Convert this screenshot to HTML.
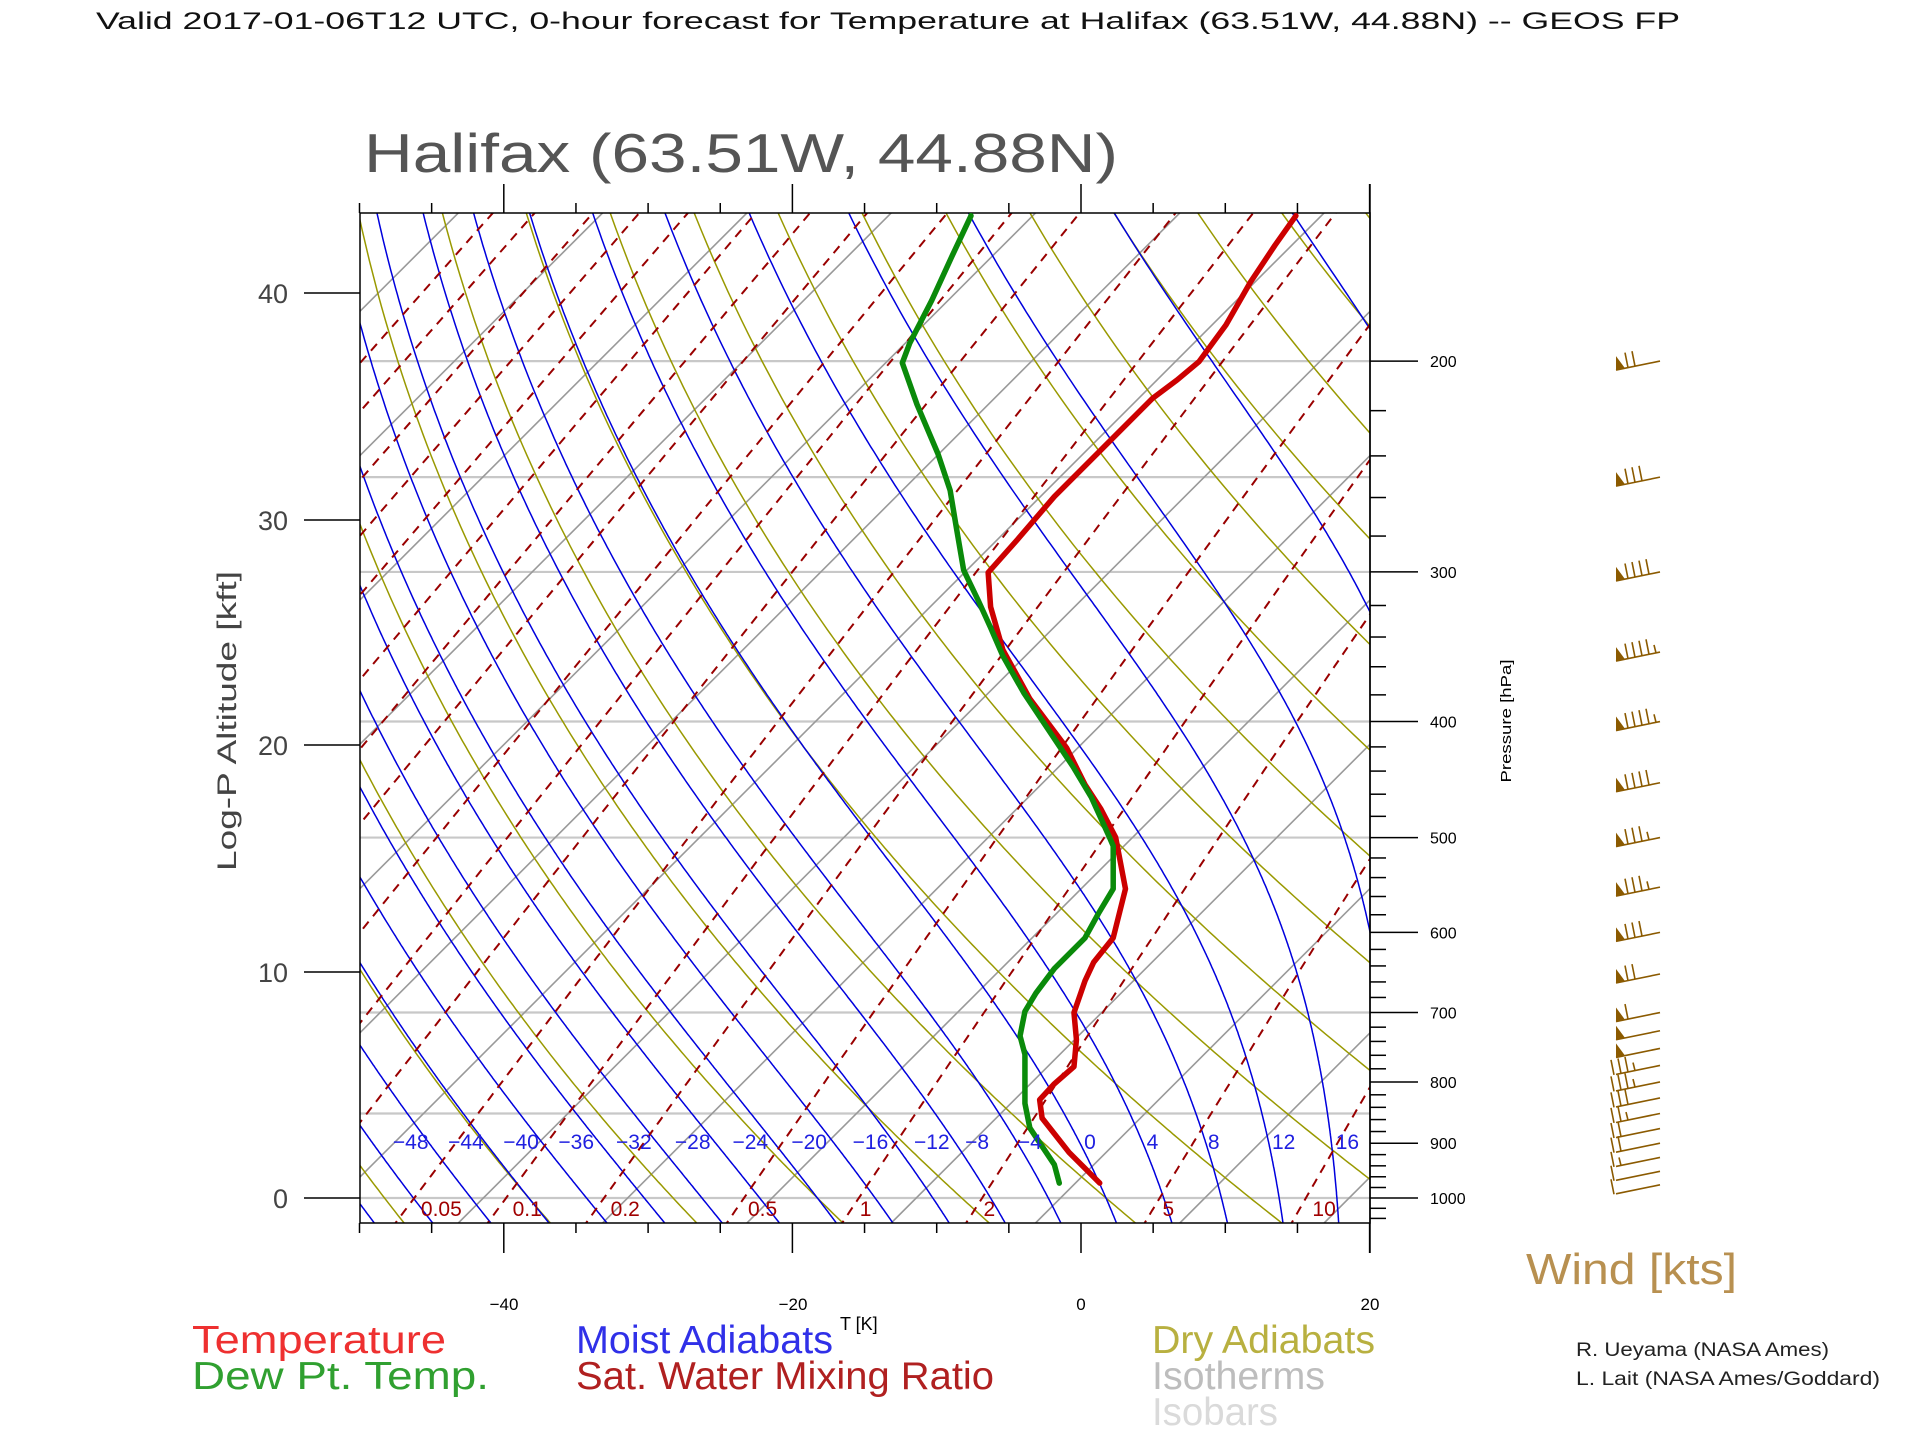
<!DOCTYPE html>
<html><head><meta charset="utf-8"><style>
html,body{margin:0;padding:0;background:#fff;}
svg{display:block;}
text{font-family:"Liberation Sans",sans-serif;}
</style></head><body>
<svg id="s" width="1920" height="1440" viewBox="0 0 1920 1440" xmlns="http://www.w3.org/2000/svg">
<defs><clipPath id="cp"><rect x="360" y="213" width="1010" height="1010"/></clipPath></defs>
<rect width="1920" height="1440" fill="#fff"/>
<g id="bg" clip-path="url(#cp)"></g>
<g id="ax" stroke="#000" stroke-width="1.5" fill="none"></g>
<g transform="scale(1.226)" fill="none" stroke-linejoin="round" stroke-linecap="round">
<polyline stroke="#cc0000" stroke-width="4.5" points="897,965 872,940 850,912 848,897 860,884 876,870 878,848 876,826 885,800 892,785 908,765 918,725 910,683 898,660 885,640 870,610 840,570 818,530 808,495 806,467 830,440 860,405 900,365 940,325 960,310 978,295 1000,265 1020,230 1040,200 1057,176"/>
<polyline stroke="#0a8a0a" stroke-width="4.5" points="864,965 860,950 850,935 840,920 836,900 836,885 836,860 832,845 836,825 845,810 860,790 885,765 896,745 908,725 908,690 905,683 890,650 875,625 855,595 835,565 818,535 808,512 798,490 786,465 780,430 775,400 765,370 748,330 736,296 742,280 760,245 776,210 792,176"/>
</g>
<g id="tx"></g>
<g id="wb" stroke="#8b5a00" stroke-width="1.6" fill="#8b5a00"></g>
<text x="96" y="29" font-size="24" fill="#111" textLength="1584" lengthAdjust="spacingAndGlyphs">Valid 2017-01-06T12 UTC, 0-hour forecast for Temperature at Halifax (63.51W, 44.88N) -- GEOS FP</text>
<text x="364" y="172" font-size="55" fill="#555" textLength="754" lengthAdjust="spacingAndGlyphs">Halifax (63.51W, 44.88N)</text>
<text transform="translate(236,721) rotate(-90)" font-size="27" fill="#444" text-anchor="middle" textLength="300" lengthAdjust="spacingAndGlyphs">Log-P Altitude [kft]</text>
<text transform="translate(1511,721) rotate(-90)" font-size="15" text-anchor="middle" textLength="123" lengthAdjust="spacingAndGlyphs">Pressure [hPa]</text>
<text x="840" y="1330" font-size="18">T [K]</text>
<g font-size="39">
<text x="192" y="1353" fill="#ee3030" textLength="254" lengthAdjust="spacingAndGlyphs">Temperature</text>
<text x="192" y="1389" fill="#30a030" textLength="297" lengthAdjust="spacingAndGlyphs">Dew Pt. Temp.</text>
<text x="576" y="1353" fill="#3030e8" textLength="257" lengthAdjust="spacingAndGlyphs">Moist Adiabats</text>
<text x="576" y="1389" fill="#b02020" textLength="418" lengthAdjust="spacingAndGlyphs">Sat. Water Mixing Ratio</text>
<text x="1152" y="1353" fill="#b8b040" textLength="223" lengthAdjust="spacingAndGlyphs">Dry Adiabats</text>
<text x="1152" y="1389" fill="#bdbdbd" textLength="173" lengthAdjust="spacingAndGlyphs">Isotherms</text>
<text x="1152" y="1425" fill="#dadada" textLength="126" lengthAdjust="spacingAndGlyphs">Isobars</text>
</g>
<text x="1526" y="1284" font-size="44" fill="#b89050" textLength="211" lengthAdjust="spacingAndGlyphs">Wind [kts]</text>
<text x="1576" y="1356" font-size="19" fill="#222" textLength="253" lengthAdjust="spacingAndGlyphs">R. Ueyama (NASA Ames)</text>
<text x="1576" y="1385" font-size="19" fill="#222" textLength="304" lengthAdjust="spacingAndGlyphs">L. Lait (NASA Ames/Goddard)</text>
</svg>
<script>
(function(){
var NS="http://www.w3.org/2000/svg";
function el(par,tag,attrs,txt){var e=document.createElementNS(NS,tag);for(var k in attrs)e.setAttribute(k,attrs[k]);if(txt!==undefined)e.textContent=txt;par.appendChild(e);return e;}
var X=function(T,y){return 1081+14.43*T+(1223-y);};
var Y=function(p){return 1198-520*Math.log(1000/p);};
var bg=document.getElementById('bg'),ax=document.getElementById('ax'),tx=document.getElementById('tx'),wb=document.getElementById('wb');
function poly(pts,attrs){var s=pts.map(function(a){return a[0].toFixed(1)+","+a[1].toFixed(1);}).join(" ");attrs.points=s;attrs.fill="none";el(bg,'polyline',attrs);}
[200,250,300,400,500,700,850,1000].forEach(function(p){var y=Y(p);el(bg,'line',{x1:360,x2:1370,y1:y,y2:y,stroke:"#c8c8c8","stroke-width":2.2});});
for(var K=120;K<=330;K+=10){var T=K-273.15;el(bg,'line',{x1:X(T,1223),y1:1223,x2:X(T,213),y2:213,stroke:"#999","stroke-width":1.6});}
for(var th=-80;th<=260;th+=10){var pts=[];for(var p=1060;p>=145;p-=5){var T=(th+273.15)*Math.pow(p/1000,0.286)-273.15;var y=Y(p);pts.push([X(T,y),y]);}poly(pts,{stroke:"#999900","stroke-width":1.5});}
function es(T){return 6.112*Math.exp(17.67*T/(T+243.5));}
function dTdp(Tk,p){var e=es(Tk-273.15);var rs=0.622*e/(p-e);var Rd=287.04,cp=1005.7,L=2.501e6;return (Rd*Tk+L*rs)/(p*(cp+L*L*rs*0.622/(Rd*Tk*Tk)));}
for(var tw=-60;tw<=44;tw+=4){var up=[],Tk=tw+273.15,p=1000;up.push([p,Tk]);while(p>145){var h=-2;var k1=dTdp(Tk,p),k2=dTdp(Tk+h/2*k1,p+h/2);Tk+=h*k2;p+=h;up.push([p,Tk]);}
var dn=[];Tk=tw+273.15;p=1000;while(p<1060){var h=2;var k1=dTdp(Tk,p),k2=dTdp(Tk+h/2*k1,p+h/2);Tk+=h*k2;p+=h;dn.unshift([p,Tk]);}
var all=dn.concat(up).map(function(a){var y=Y(a[0]);return [X(a[1]-273.15,y),y];});poly(all,{stroke:"#0000dd","stroke-width":1.5});}
[0.00001,0.00002,0.00005,0.0001,0.0002,0.0005,0.001,0.002,0.005,0.01,0.02,0.05,0.1,0.2,0.5,1,2,5,10,20,50].forEach(function(w){var pts=[];for(var p=1060;p>=145;p-=5){var e=w*p/(622+w);var l=Math.log(e/6.112);var T=243.5*l/(17.67-l);var y=Y(p);pts.push([X(T,y),y]);}poly(pts,{stroke:"#990000","stroke-width":2,"stroke-dasharray":"9 7"});});
el(ax,'rect',{x:360,y:213,width:1010,height:1010});
el(ax,'line',{x1:1370,y1:184,x2:1370,y2:1253});
for(var T=-50;T<=20;T+=5){var x=1081+14.43*T;var maj=(T%20===0);el(ax,'line',{x1:x,y1:213,x2:x,y2:maj?184:203});el(ax,'line',{x1:x,y1:1223,x2:x,y2:maj?1253:1233});}
[[0,1198],[10,972],[20,745],[30,520],[40,293]].forEach(function(a){el(ax,'line',{x1:304,y1:a[1],x2:360,y2:a[1]});el(tx,'text',{x:288,y:a[1]+10,"font-size":27,"text-anchor":"end",fill:"#444"},String(a[0]));});
[[-40,504],[-20,793],[0,1081],[20,1370]].forEach(function(a){el(tx,'text',{x:a[1],y:1310,"font-size":17,"text-anchor":"middle"},a[0]<0?"\u2212"+(-a[0]):String(a[0]));});
for(var p=200;p<=1040;p+=20){var y=Y(p);var maj=(p%100===0);el(ax,'line',{x1:1370,y1:y,x2:maj?1418:1386,y2:y});if(maj)el(tx,'text',{x:1430,y:y+6,"font-size":16},String(p));}
var ml=[[-48,335],[-44,380],[-40,425],[-36,470],[-32,517],[-28,565],[-24,612],[-20,660],[-16,710],[-12,760],[-8,797],[-4,840],[0,889],[4,940],[8,990],[12,1047],[16,1099]];
ml.forEach(function(a){el(tx,'text',{x:a[1]*1.226,y:1149,"font-size":21,"text-anchor":"middle",fill:"#2020e0"},a[0]<0?"\u2212"+(-a[0]):String(a[0]));});
var wl=[["0.05",360],["0.1",430],["0.2",510],["0.5",622],["1",706],["2",807],["5",953],["10",1080]];
wl.forEach(function(a){el(tx,'text',{x:a[1]*1.226,y:1216,"font-size":21,"text-anchor":"middle",fill:"#a00000"},a[0]);});
var lv=[[200,1,2,0],[250,1,3,0],[300,1,4,0],[350,1,4,1],[400,1,4,1],[450,1,4,0],[500,1,3,1],[550,1,3,1],[600,1,3,0],[650,1,2,0],[700,1,1,0],[725,1,0,0],[750,1,0,0],[775,0,3,1],[800,0,3,1],[825,0,3,0],[850,0,2,1],[875,0,2,0],[900,0,2,0],[925,0,1,1],[950,0,1,0],[975,0,1,0]];
lv.forEach(function(l){var yr=Y(l[0]);var x0=1616,x1=1660,y0=yr+9;el(wb,'line',{x1:x0,y1:y0,x2:x1,y2:yr,fill:"none"});
var pos=0;var fy=function(x){return y0+(yr-y0)*(x-x0)/(x1-x0);};
for(var i=0;i<l[1];i++){var xa=x0+pos;el(wb,'polygon',{points:xa+","+fy(xa)+" "+xa+","+(fy(xa)-14)+" "+(xa+9)+","+fy(xa+9),stroke:"none"});pos+=10;}
for(var i=0;i<l[2];i++){var xa=x0+pos+(l[1]?2:-2);el(wb,'line',{x1:xa,y1:fy(xa),x2:xa-3,y2:fy(xa)-15,fill:"none"});pos+=7;}
if(l[3]){var xa=x0+pos+(l[1]?2:-2);el(wb,'line',{x1:xa,y1:fy(xa),x2:xa-2,y2:fy(xa)-8,fill:"none"});}
});
})();
</script>
</body></html>
